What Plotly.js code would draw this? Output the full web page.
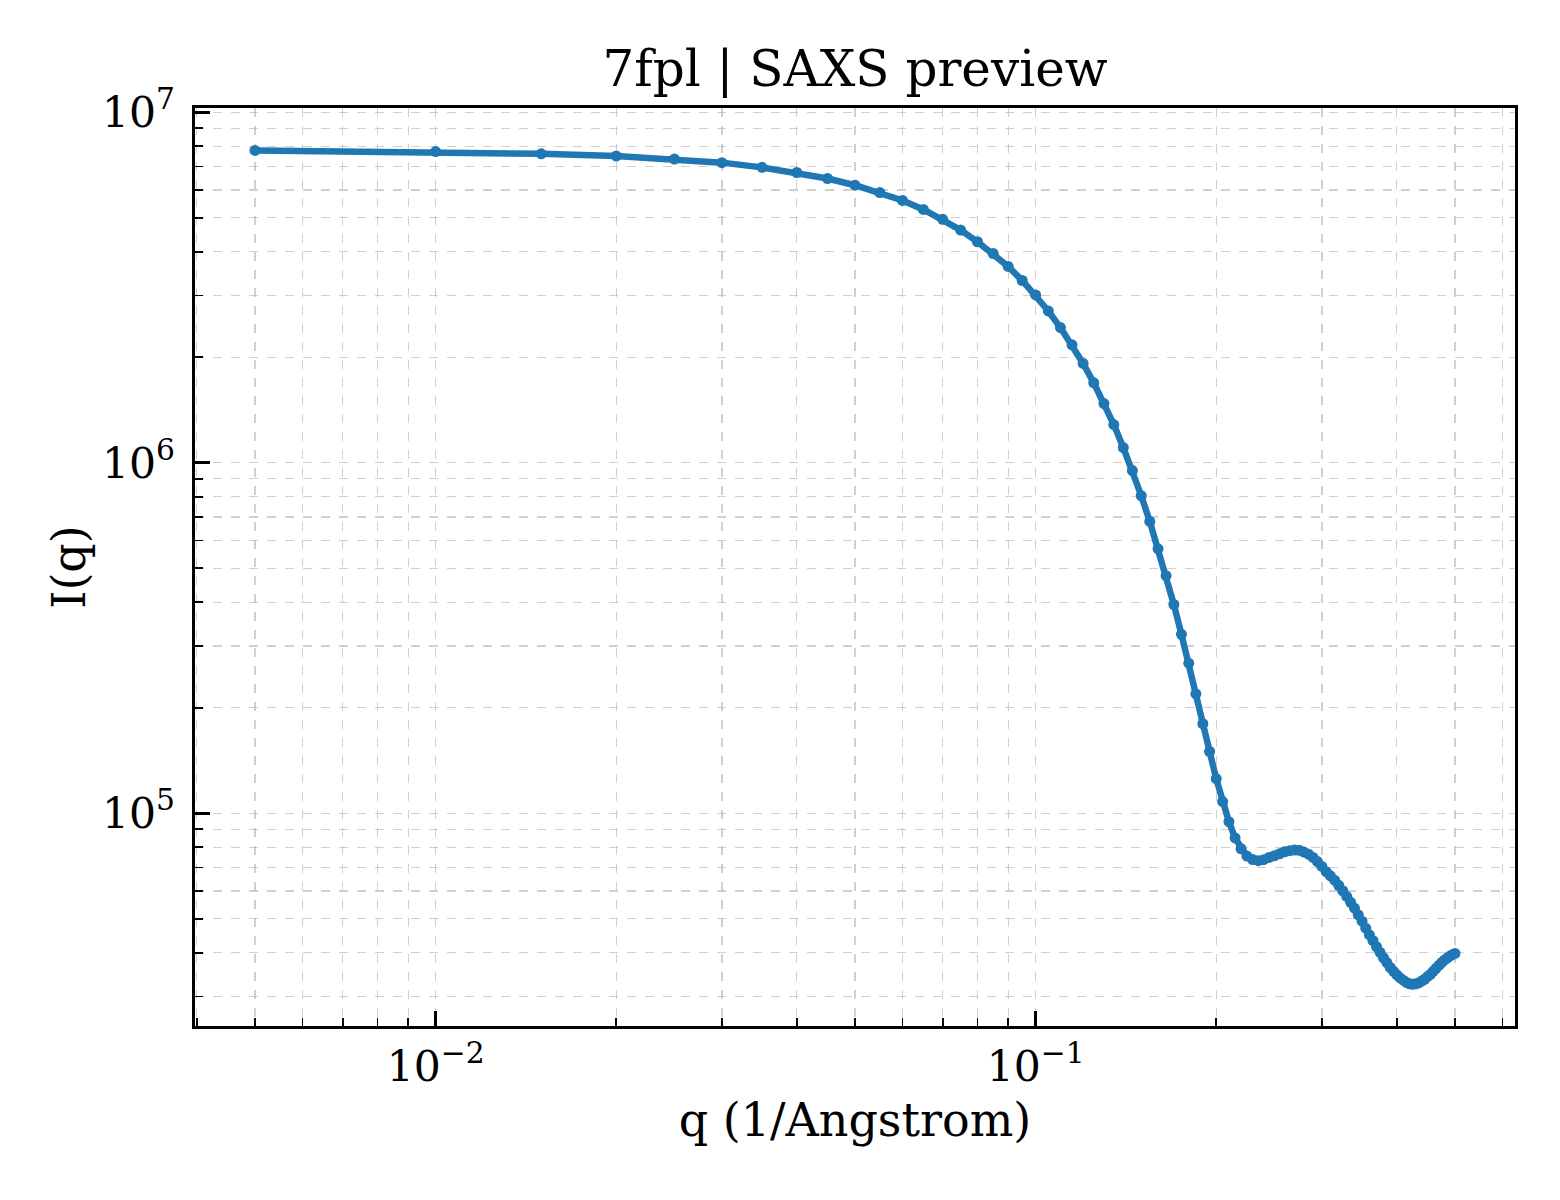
<!DOCTYPE html>
<html>
<head>
<meta charset="utf-8">
<script src="https://cdn.plot.ly/plotly-3.0.1.min.js"></script>
<style>
  body { margin: 0; background: #fff; }
  #plot { width: 1560px; height: 1200px; }
</style>
</head>
<body>
<div id="plot"></div>
<script>
const qValues = [
    0.005, 0.010, 0.015, 0.020, 0.025, 0.030, 0.035, 0.040, 0.045, 0.050,
    0.055, 0.060, 0.065, 0.070, 0.075, 0.080, 0.085, 0.090, 0.095, 0.100,
    0.105, 0.110, 0.115, 0.120, 0.125, 0.130, 0.135, 0.140, 0.145, 0.150,
    0.155, 0.160, 0.165, 0.170, 0.175, 0.180, 0.185, 0.190, 0.195, 0.200,
    0.205, 0.210, 0.215, 0.220, 0.225, 0.230, 0.235, 0.240, 0.245, 0.250,
    0.255, 0.260, 0.265, 0.270, 0.275, 0.280, 0.285, 0.290, 0.295, 0.300,
    0.305, 0.310, 0.315, 0.320, 0.325, 0.330, 0.335, 0.340, 0.345, 0.350,
    0.355, 0.360, 0.365, 0.370, 0.375, 0.380, 0.385, 0.390, 0.395, 0.400,
    0.405, 0.410, 0.415, 0.420, 0.425, 0.430, 0.435, 0.440, 0.445, 0.450,
    0.455, 0.460, 0.465, 0.470, 0.475, 0.480, 0.485, 0.490, 0.495, 0.500
]

const intensity = [
    7.78e6, 7.72e6, 7.61e6, 7.50e6, 7.35e6, 7.18e6, 6.96e6, 6.73e6, 6.47e6, 6.19e6,
    5.90e6, 5.60e6, 5.28e6, 4.95e6, 4.61e6, 4.27e6, 3.95e6, 3.63e6, 3.31e6, 3.01e6,
    2.71e6, 2.43e6, 2.17e6, 1.92e6, 1.69e6, 1.475e6, 1.285e6, 1.105e6, 9.5e5, 8.05e5,
    6.8e5, 5.68e5, 4.76e5, 3.94e5, 3.24e5, 2.68e5, 2.19e5, 1.80e5, 1.50e5, 1.255e5,
    1.08e5, 9.46e4, 8.5e4, 7.92e4, 7.55e4, 7.38e4, 7.32e4, 7.37e4, 7.48e4, 7.56e4,
    7.66e4, 7.76e4, 7.82e4, 7.85e4, 7.84e4, 7.75e4, 7.64e4, 7.48e4, 7.28e4, 7.05e4,
    6.81e4, 6.63e4, 6.44e4, 6.23e4, 6.01e4, 5.79e4, 5.57e4, 5.36e4, 5.13e4, 4.92e4,
    4.70e4, 4.50e4, 4.33e4, 4.16e4, 4.01e4, 3.87e4, 3.75e4, 3.63e4, 3.54e4, 3.46e4,
    3.39e4, 3.34e4, 3.29e4, 3.26e4, 3.25e4, 3.26e4, 3.28e4, 3.32e4, 3.36e4, 3.42e4,
    3.47e4, 3.54e4, 3.61e4, 3.68e4, 3.75e4, 3.81e4, 3.86e4, 3.91e4, 3.95e4, 3.98e4
]

const titleText = '7fpl | SAXS preview'
const xLabel = 'q (1/Angstrom)'
const yLabel = 'I(q)'

const serif = 'DejaVu Serif'
const gridColor = 'rgba(176,176,176,0.6)'

function logAxis(range, label, labelGap, titleGap) {
    return {
        type: 'log',
        range: range,
        dtick: 1,
        exponentformat: 'power',
        showline: true,
        linecolor: '#000',
        linewidth: 3.2,
        mirror: true,
        ticks: 'inside',
        ticklen: 15,
        tickwidth: 2.6,
        tickcolor: '#000',
        ticklabelstandoff: labelGap,
        tickfont: { family: serif, size: 34, color: '#000' },
        showgrid: true,
        gridcolor: gridColor,
        gridwidth: 1.3,
        griddash: 'dash',
        zeroline: false,
        minor: {
            ticks: 'inside',
            ticklen: 8,
            tickwidth: 1.8,
            tickcolor: '#000',
            showgrid: true,
            gridcolor: gridColor,
            gridwidth: 1.3,
            griddash: 'dash'
        },
        title: { text: label, font: { family: serif, size: 46, color: '#000' }, standoff: titleGap }
    }
}

let trace = {
    x: qValues,
    y: intensity,
    mode: 'lines+markers',
    line: { color: '#1f77b4', width: 6.5 },
    marker: { color: '#1f77b4', size: 11 },
    hoverinfo: 'x+y'
}

let layout = {
    width: 1560,
    height: 1200,
    paper_bgcolor: '#fff',
    plot_bgcolor: '#fff',
    showlegend: false,
    margin: { l: 195, r: 45, t: 108, b: 174 },
    title: {
        text: titleText,
        font: { family: serif, size: 50, color: '#000' },
        x: 0.5,
        xref: 'paper',
        xanchor: 'center',
        y: 1 - 68 / 1200,
        yref: 'container',
        yanchor: 'middle'
    },
    xaxis: logAxis([-2.401, -0.201], xLabel, 2, 15),
    yaxis: logAxis([4.393, 7.012], yLabel, 10, 2)
}

Plotly.newPlot('plot', [trace], layout, { staticPlot: true })
</script>
</body>
</html>
